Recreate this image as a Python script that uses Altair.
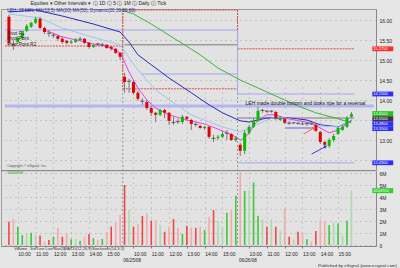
import altair as alt
import pandas as pd

# ---------------- data (15-minute bars, 3 sessions x 26 bars) -------------
opens = [16.08, 15.40, 15.45, 15.55, 15.73, 15.83, 15.93, 16.03, 15.80, 15.68, 15.63, 15.60, 15.53,
         15.48, 15.43, 15.45, 15.53, 15.53, 15.43, 15.33, 15.40, 15.39, 15.38, 15.33, 15.28, 15.18,
         14.58, 14.48, 14.45, 14.18, 13.98, 13.95, 13.80, 13.68, 13.63, 13.75, 13.68, 13.45, 13.45,
         13.45, 13.58, 13.50, 13.40, 13.35, 13.30, 13.33, 13.05, 13.05, 13.08, 13.18, 13.15, 13.00,
         12.88, 12.73, 13.18, 13.33, 13.48, 13.73, 13.73, 13.71, 13.70, 13.50, 13.53, 13.43, 13.43,
         13.43, 13.40, 13.40, 13.40, 13.38, 13.20, 12.95, 12.85, 13.00, 13.15, 13.25, 13.33, 13.58]
closes = [15.43, 15.38, 15.55, 15.68, 15.85, 15.93, 16.03, 15.80, 15.70, 15.67, 15.62, 15.53, 15.45,
          15.43, 15.46, 15.51, 15.52, 15.43, 15.33, 15.38, 15.40, 15.38, 15.30, 15.28, 15.18, 15.08,
          14.45, 14.47, 14.18, 14.03, 13.97, 13.80, 13.68, 13.63, 13.75, 13.68, 13.48, 13.44, 13.46,
          13.58, 13.53, 13.40, 13.39, 13.30, 13.33, 13.08, 13.04, 13.08, 13.15, 13.17, 13.00, 13.05,
          12.73, 13.18, 13.33, 13.48, 13.73, 13.74, 13.72, 13.72, 13.55, 13.55, 13.43, 13.42, 13.43,
          13.42, 13.40, 13.41, 13.40, 13.23, 12.95, 12.88, 13.00, 13.10, 13.30, 13.33, 13.55, 13.65]
highs = [16.13, 15.50, 15.60, 15.73, 15.90, 15.95, 16.08, 16.08, 15.83, 15.75, 15.68, 15.63, 15.58,
         15.50, 15.50, 15.55, 15.58, 15.55, 15.45, 15.40, 15.43, 15.43, 15.40, 15.35, 15.30, 15.20,
         14.68, 14.53, 14.50, 14.23, 14.05, 14.00, 13.85, 13.70, 13.78, 13.78, 13.70, 13.58, 13.53,
         13.63, 13.60, 13.53, 13.45, 13.38, 13.35, 13.35, 13.13, 13.13, 13.23, 13.25, 13.18, 13.10,
         12.93, 13.25, 13.38, 13.55, 13.83, 13.78, 13.75, 13.75, 13.73, 13.60, 13.55, 13.48, 13.45,
         13.45, 13.45, 13.43, 13.43, 13.40, 13.23, 12.98, 13.05, 13.15, 13.35, 13.38, 13.60, 13.70]
lows = [15.38, 15.25, 15.40, 15.50, 15.70, 15.80, 15.90, 15.78, 15.65, 15.58, 15.55, 15.48, 15.40,
        15.38, 15.40, 15.43, 15.48, 15.40, 15.28, 15.30, 15.35, 15.33, 15.28, 15.23, 15.15, 15.00,
        14.18, 14.18, 14.13, 13.98, 13.88, 13.75, 13.60, 13.45, 13.60, 13.55, 13.38, 13.38, 13.40,
        13.40, 13.48, 13.25, 13.33, 13.28, 13.25, 13.03, 12.95, 13.00, 13.05, 13.00, 12.98, 12.95,
        12.60, 12.65, 13.13, 13.30, 13.45, 13.68, 13.68, 13.68, 13.50, 13.48, 13.40, 13.38, 13.40,
        13.38, 13.38, 13.35, 13.38, 13.20, 12.90, 12.80, 12.80, 12.95, 13.13, 13.23, 13.30, 13.55]
volume_m = [1.94, 2.17, 1.53, 0.83, 0.92, 1.03, 0.83, 0.80, 0.28, 0.42, 0.69, 1.44, 0.69,
            0.97, 0.47, 0.50, 0.36, 0.69, 0.92, 0.56, 0.42, 0.50, 1.06, 1.53, 1.86, 2.50,
            5.00, 2.92, 1.53, 1.75, 2.42, 2.64, 2.03, 2.08, 1.67, 1.11, 1.53, 2.17, 1.44,
            0.92, 1.58, 1.44, 1.44, 1.53, 1.25, 2.36, 2.92, 2.03, 1.47, 2.69, 2.86, 4.10,
            6.10, 4.50, 4.58, 5.22, 2.42, 2.14, 1.53, 2.14, 1.53, 1.19, 3.06, 0.69, 0.47,
            1.11, 1.03, 0.47, 0.28, 1.17, 2.08, 1.94, 1.67, 1.86, 1.80, 0.78, 2.03, 4.53]
volume_tone = ["r", "p", "g", "g", "l", "g", "l", "r", "p", "r", "g", "p", "r",
               "p", "g", "l", "g", "p", "r", "g", "p", "g", "p", "r", "p", "p",
               "r", "l", "r", "p", "r", "p", "r", "p", "l", "r", "p", "r", "p",
               "g", "r", "p", "r", "p", "g", "p", "r", "l", "l", "g", "p", "g",
               "p", "g", "l", "g", "g", "l", "r", "l", "r", "l", "p", "r", "l",
               "r", "p", "g", "p", "r", "p", "p", "g", "l", "g", "l", "g", "l"]

hour_labels = ["10:00", "11:00", "12:00", "13:00", "14:00", "15:00"]
session_dates = ["06/25/08", "06/26/08"]
session_first_bar = [26, 52]
bars_per_session = 26
price_ticks = [12.5, 13.0, 13.5, 14.0, 14.5, 15.0, 15.5, 16.0]
volume_ticks = [0, 1, 2, 3, 4, 5, 6]

# moving averages (bar index, value) read at sample points
ma_blue_bar = [0, 6, 12, 19, 25, 27, 29, 32, 36, 41, 45, 48, 52, 54, 58, 63, 67, 70, 74, 77]
ma_blue_val = [16.20, 16.25, 16.10, 15.90, 15.70, 15.45, 15.13, 14.88, 14.55, 14.18, 13.88, 13.68,
               13.48, 13.45, 13.55, 13.55, 13.50, 13.38, 13.33, 13.48]
ma_green_bar = [14, 16, 23, 28, 32, 37, 43, 47, 52, 56, 60, 65, 69, 74, 77]
ma_green_val = [16.50, 16.43, 16.33, 16.15, 15.90, 15.55, 15.13, 14.80, 14.50, 14.30, 14.10, 13.85,
                13.68, 13.53, 13.43]
ma_light_bar = [0, 7, 12, 17, 25, 27, 29, 33, 37, 41, 45, 48, 52, 54, 57, 60, 65, 70, 74, 77]
ma_light_val = [16.15, 16.05, 15.80, 15.63, 15.38, 15.05, 14.75, 14.25, 13.93, 13.63, 13.45, 13.33,
                13.20, 13.30, 13.45, 13.58, 13.50, 13.35, 13.33, 13.50]
ma_pink_bar = [8, 12, 16, 19, 22, 25, 26, 27, 29, 31, 33, 36, 40, 44, 48, 51, 52, 53, 54, 55, 56,
               58, 60, 62, 65, 68, 70, 72, 74, 76, 77]
ma_pink_val = [15.75, 15.58, 15.48, 15.40, 15.35, 15.18, 14.95, 14.70, 14.30, 14.00, 13.80, 13.63,
               13.50, 13.40, 13.23, 13.08, 13.00, 13.05, 13.18, 13.35, 13.50, 13.63, 13.63, 13.55,
               13.48, 13.43, 13.30, 13.18, 13.25, 13.40, 13.50]

# horizontal study levels
level_kind = ["pivot", "pivot", "pivot", "pivot", "band", "band", "band", "band", "gray", "gray",
              "thick", "base"]
level_from = [-0.9, 25.6, 25.6, 51.4, -0.9, 29.8, 51.4, 51.4, 26.0, 51.4, -0.9, 62.1]
level_to = [25.6, 51.4, 51.4, 77.6, 51.4, 51.4, 77.6, 77.6, 51.4, 77.6, 82.0, 68.1]
level_price = [15.35, 16.25, 14.28, 15.28, 15.75, 14.65, 14.15, 12.43, 15.38, 13.55, 13.85, 13.30]
step_bar = [25.6, 51.4, 51.4]
step_top = [16.25, 16.25, 15.75]
step_bottom = [14.28, 15.28, 14.15]
step_kind = ["pivot", "pivot", "band"]
session_breaks = [25.6, 51.4]

pivot_text = ["Pivot R1", "Pivot Point", "Pivot Point R2"]
pivot_text_price = [15.65, 15.52, 15.38]

note_text = "LEH made double bottom and looks ripe for a reversal"
note_bar = 53.2
note_price = 13.93

arrow_id = ["a", "a", "b", "b"]
arrow_bar = [66.3, 68.5, 68.05, 71.1]
arrow_price = [13.15, 13.30, 12.65, 12.83]
arrow_head_angle = [59, 63]

box_price = [15.28, 14.15, 13.66, 13.535, 13.41, 13.285, 12.43]
box_color = ["#ff2a2a", "#2d2dff", "#22c322", "#3a3a3a", "#2d2dff", "#2d2dff", "#2d2dff"]
box_label = ["15.2750", "14.1500", "13.6500", "13.5500", "13.4800", "13.3500", "12.4300"]
vol_box_value = [4.53]
vol_box_label = ["4534700"]

# ---------------- tables ----------------
n = len(opens)
candles = pd.DataFrame({"i": list(range(n)), "open": opens, "close": closes,
                        "high": highs, "low": lows})
candles["dir"] = ["doji" if abs(c - o) < 0.015 else ("up" if c > o else "down")
                  for o, c in zip(opens, closes)]
vol = pd.DataFrame({"i": list(range(n)), "vol": volume_m, "tone": volume_tone})

ma = pd.concat([
    pd.DataFrame({"i": ma_green_bar, "v": ma_green_val, "s": "green"}),
    pd.DataFrame({"i": ma_blue_bar, "v": ma_blue_val, "s": "blue"}),
    pd.DataFrame({"i": ma_light_bar, "v": ma_light_val, "s": "light"}),
    pd.DataFrame({"i": ma_pink_bar, "v": ma_pink_val, "s": "pink"}),
])
levels = pd.DataFrame({"i": level_from, "i2": level_to, "v": level_price, "k": level_kind})
steps = pd.DataFrame({"i": step_bar, "v": step_top, "v2": step_bottom, "k": step_kind})
breaks = pd.DataFrame({"i": session_breaks})
pivots = pd.DataFrame({"i": [-0.4] * len(pivot_text), "v": pivot_text_price, "t": pivot_text})
arrows = pd.DataFrame({"i": arrow_bar, "v": arrow_price, "a": arrow_id})
heads = pd.DataFrame({"i": arrow_bar[1::2], "v": arrow_price[1::2], "a": arrow_id[1::2],
                      "ang": arrow_head_angle})
boxes = pd.DataFrame({"v": box_price, "c": box_color, "t": box_label})
vboxes = pd.DataFrame({"v": vol_box_value, "t": vol_box_label})
dates = pd.DataFrame({"i": [b - 0.3 for b in session_first_bar], "t": session_dates})

# ---------------- scales / axes ----------------
FONT = "Liberation Sans"
x_scale = alt.Scale(domain=[-0.656, 81.4], nice=False, zero=False)
p_scale = alt.Scale(domain=[12.30, 16.275], range=[159, 0], nice=False, zero=False)
v_scale = alt.Scale(domain=[0, 6], range=[236, 164], nice=False)

hour_ticks = [s * bars_per_session + 2 + 4 * k for s in range(3) for k in range(len(hour_labels))]
label_list = "[" + ",".join("'" + h + "'" for h in hour_labels) + "]"
x_axis = alt.Axis(values=hour_ticks,
                  labelExpr=label_list + "[floor(((datum.value % 26) - 2) / 4)]",
                  labelAlign="left", labelFontSize=5, labelFont=FONT, labelColor="#222",
                  labelPadding=3, tickSize=2, tickColor="#777", grid=True, gridDash=[1, 4],
                  gridColor="#a6a6a6", domainColor="#888", title=None, labelOverlap=False)
# 12.50 and 13.50 are covered by the value boxes in the reference: keep their grid, blank the text
p_axis = alt.Axis(orient="right", values=price_ticks,
                  labelExpr="(datum.value == 12.5 || datum.value == 13.5) ? '' : format(datum.value, '.2f')",
                  grid=True, gridDash=[1, 4],
                  gridColor="#a6a6a6", labelFontSize=5, labelFont=FONT, labelColor="#222",
                  ticks=False, labelPadding=3, domainColor="#888", title=None)
v_axis = alt.Axis(orient="right", values=volume_ticks,
                  labelExpr="datum.value == 0 ? '0' : datum.value + 'M'", grid=True,
                  gridDash=[1, 4], gridColor="#a6a6a6", labelFontSize=5, labelFont=FONT,
                  labelColor="#222", ticks=False, labelPadding=3, domainColor="#888", title=None)


def X(field="i"):
    return alt.X(field + ":Q", scale=x_scale, axis=x_axis)


def PY(field="v", axis=None):
    return alt.Y(field + ":Q", scale=p_scale, axis=axis)


layers = []

# session separators
layers.append(alt.Chart(breaks).mark_rule(color="#9a9a9a", strokeDash=[2, 2], strokeWidth=1)
              .encode(x=X()))
# panel separator
layers.append(alt.Chart(breaks).mark_rule(color="#8a8a8a", strokeWidth=1)
              .encode(y=alt.Y(datum=6.2, scale=v_scale, axis=None)))

# horizontal study levels
lv = alt.Chart(levels)
layers.append(lv.mark_rule(color="#b4b4f2", strokeWidth=3, clip=True)
              .encode(x=X(), x2="i2:Q", y=PY()).transform_filter(alt.datum.k == "thick"))
layers.append(lv.mark_rule(color="#a6a6ee", strokeWidth=1, clip=True)
              .encode(x=X(), x2="i2:Q", y=PY()).transform_filter(alt.datum.k == "band"))
layers.append(lv.mark_rule(color="#a0a0e8", strokeWidth=2, clip=True)
              .encode(x=X(), x2="i2:Q", y=PY()).transform_filter(alt.datum.k == "base"))
layers.append(lv.mark_rule(color="#7c7c7c", strokeWidth=1, clip=True)
              .encode(x=X(), x2="i2:Q", y=PY()).transform_filter(alt.datum.k == "gray"))
layers.append(lv.mark_rule(color="#e04848", strokeWidth=1, strokeDash=[2, 1], clip=True)
              .encode(x=X(), x2="i2:Q", y=PY()).transform_filter(alt.datum.k == "pivot"))
st = alt.Chart(steps)
layers.append(st.mark_rule(color="#e04848", strokeWidth=1, strokeDash=[2, 1], clip=True)
              .encode(x=X(), y=PY(), y2="v2:Q").transform_filter(alt.datum.k == "pivot"))
layers.append(st.mark_rule(color="#a6a6ee", strokeWidth=1, clip=True)
              .encode(x=X(), y=PY(), y2="v2:Q").transform_filter(alt.datum.k == "band"))

# moving averages
layers.append(alt.Chart(ma).mark_line(strokeWidth=1, clip=True).encode(
    x=X(), y=PY(), detail="s:N",
    color=alt.Color("s:N", legend=None,
                    scale=alt.Scale(domain=["green", "blue", "light", "pink"],
                                    range=["#3cb43c", "#2828c8", "#96c8f0", "#f03cf0"]))))

# candles
cd = alt.Chart(candles)
layers.append(cd.mark_rule(color="#7a7a7a", strokeWidth=1)
              .encode(x=X(), y=PY("low", p_axis), y2="high:Q"))
layers.append(cd.mark_bar(size=3).encode(
    x=X(), y=PY("open"), y2="close:Q",
    color=alt.Color("dir:N", legend=None,
                    scale=alt.Scale(domain=["up", "down"], range=["#00c000", "#e60000"]))
).transform_filter(alt.datum.dir != "doji"))
layers.append(cd.mark_tick(orient="horizontal", thickness=1, size=4, color="#303030")
              .encode(x=X(), y=PY("close")).transform_filter(alt.datum.dir == "doji"))

# arrows
layers.append(alt.Chart(arrows).mark_line(strokeWidth=1).encode(
    x=X(), y=PY(), detail="a:N",
    color=alt.Color("a:N", legend=None,
                    scale=alt.Scale(domain=["a", "b"], range=["#ff5a5a", "#3c3ce0"]))))
layers.append(alt.Chart(heads).mark_point(shape="triangle", filled=True, size=14, opacity=1).encode(
    x=X(), y=PY(), angle=alt.Angle("ang:Q", scale=None),
    color=alt.Color("a:N", legend=None,
                    scale=alt.Scale(domain=["a", "b"], range=["#ff5a5a", "#3c3ce0"]))))

# volume
layers.append(alt.Chart(vol).mark_bar(size=1.6).encode(
    x=X(), y=alt.Y("vol:Q", scale=v_scale, axis=v_axis),
    color=alt.Color("tone:N", legend=None,
                    scale=alt.Scale(domain=["r", "p", "g", "l"],
                                    range=["#f04646", "#f2aaaa", "#3cc83c", "#aed8ae"]))))

# texts inside the panes
layers.append(alt.Chart(pd.DataFrame({"i": [note_bar], "v": [note_price], "t": [note_text]}))
              .mark_text(align="left", baseline="middle", fontSize=5, font=FONT, color="#111")
              .encode(x=X(), y=PY(), text="t:N"))
layers.append(alt.Chart(pivots).mark_text(align="left", baseline="middle", fontSize=4.6,
                                          font=FONT, color="#222")
              .encode(x=X(), y=PY(), text="t:N"))
layers.append(alt.Chart(pd.DataFrame({"i": [-0.4], "v": [16.22],
                                      "t": ["LEH, 15 MIN, MA(13,5) MA(20) MA(50), Dynamic(20,30,50,60)"]}))
              .mark_text(align="left", baseline="middle", fontSize=4.6, font=FONT, color="#2a2a9a")
              .encode(x=X(), y=PY(), text="t:N"))
layers.append(alt.Chart(pd.DataFrame({"i": [-0.4], "v": [12.34], "t": ["Copyright © eSignal, Inc."]}))
              .mark_text(align="left", baseline="middle", fontSize=3.6, font=FONT, color="#555")
              .encode(x=X(), y=PY(), text="t:N"))
layers.append(alt.Chart(pd.DataFrame({"i": [-0.4], "v": [6.0], "t": ["Volume"]}))
              .mark_text(align="left", baseline="middle", fontSize=4.8, font=FONT, color="#26b026")
              .encode(x=X(), y=alt.Y("v:Q", scale=v_scale, axis=None), text="t:N"))

# value boxes on the price / volume axes
layers.append(alt.Chart(boxes).transform_calculate(lo="datum.v - 0.06", hi="datum.v + 0.06")
              .mark_rect().encode(x=alt.X(datum=81.7, scale=x_scale, axis=x_axis),
                                  x2=alt.X2(datum=86.4),
                                  y=alt.Y("lo:Q", scale=p_scale, axis=None), y2="hi:Q",
                                  color=alt.Color("c:N", scale=None)))
layers.append(alt.Chart(boxes).mark_text(align="left", baseline="middle", fontSize=4, font=FONT,
                                         color="white")
              .encode(x=alt.X(datum=81.9, scale=x_scale, axis=x_axis), y=PY(), text="t:N"))
layers.append(alt.Chart(vboxes).transform_calculate(lo="datum.v - 0.21", hi="datum.v + 0.21")
              .mark_rect(color="#2ed02e").encode(x=alt.X(datum=81.7, scale=x_scale, axis=x_axis),
                                                 x2=alt.X2(datum=86.4),
                                                 y=alt.Y("lo:Q", scale=v_scale, axis=None),
                                                 y2="hi:Q"))
layers.append(alt.Chart(vboxes).mark_text(align="left", baseline="middle", fontSize=4, font=FONT,
                                          color="white")
              .encode(x=alt.X(datum=81.9, scale=x_scale, axis=x_axis),
                      y=alt.Y("v:Q", scale=v_scale, axis=None), text="t:N"))

# session dates under the time labels
layers.append(alt.Chart(dates).mark_text(align="left", baseline="middle", fontSize=4.6, font=FONT,
                                         color="#222")
              .encode(x=X(), y=alt.value(251.5), text="t:N"))

# window chrome: indicator tabs and status line
tabs = pd.DataFrame({"t": ["Volume", "3rd Line Live Bar(3)", "MACD(12,26,9)", "Stochastic(14,3,3)"],
                     "px": [13, 29, 63, 91]})
layers.append(alt.Chart(tabs).mark_text(align="left", baseline="middle", fontSize=4, font=FONT,
                                        color="#333")
              .encode(x=alt.X("px:Q", scale=None), y=alt.value(239.8), text="t:N"))
layers.append(alt.Chart(pd.DataFrame({"t": ["Published by eSignal (www.esignal.com)"]}))
              .mark_text(align="right", baseline="middle", fontSize=4.4, font=FONT, color="#333")
              .encode(x=alt.value(396), y=alt.value(256.5), text="t:N"))

chart = (alt.layer(*layers)
         .resolve_scale(y="independent", color="independent")
         .properties(width=375, height=237,
                     padding={"left": 1, "top": 9, "right": 24, "bottom": 22},
                     autosize=alt.AutoSizeParams(type="none"),
                     background="#e6e6e6",
                     title=alt.Title("Equities \u25be   Other Intervals \u25be   \u24d8 1D   \u24d8 5   \u24d8 1M   \u24d8 Daily   \u24d8 Tick",
                                     anchor="start", fontSize=5, font=FONT, color="#222",
                                     fontWeight="normal", offset=2, dx=30))
         .configure_view(fill="#e2e2e2", stroke="#9a9a9a"))

chart.save("out.html", embed_options={"renderer": "svg", "actions": False})
